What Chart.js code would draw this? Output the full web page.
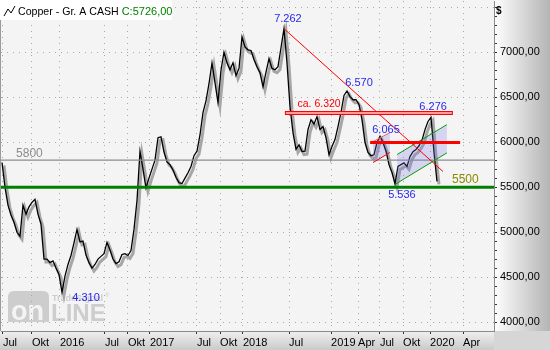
<!DOCTYPE html>
<html><head><meta charset="utf-8">
<script src="https://cdn.jsdelivr.net/npm/chart.js@4/dist/chart.umd.min.js"></script>
<style>html,body{margin:0;padding:0;background:#fff;}canvas{display:block}</style>
</head><body>
<canvas id="c" width="550" height="350"></canvas>
<script>
// ---- data ----
const titleText = "Copper - Gr. A CASH";
const lastCloseText = "C:5726,00";
// closes sampled at regular trading intervals, Jul 2015 .. Feb 2020
const prices = [
 5774,5500,5300,5190,5110,4998,4953,5300,5200,5280,
 5330,5364,5200,5090,4700,4700,4660,4680,4600,4530,
 4330,4510,4640,4740,4880,5031,4890,4900,4745,4660,
 4600,4640,4700,4730,4760,4887,4800,4700,4650,4670,
 4750,4760,4740,4795,5030,5350,5900,5700,5490,5600,
 5700,5800,6050,6060,5890,5780,5750,5690,5610,5550,
 5540,5600,5660,5730,5850,5900,6080,6328,6460,6650,
 6882,6661,6439,6800,7000,6882,6805,6882,6740,6820,
 7171,7060,7027,7020,6920,6838,6772,6616,6780,6930,
 6820,6805,6840,7050,7262,6882,6395,6106,5920,5970,
 5895,5900,6140,6250,6200,6284,6140,6173,6050,5860,
 5951,6029,6173,6330,6520,6570,6506,6472,6472,6420,
 6250,5996,5885,5850,5860,5996,6065,5996,5900,5750,
 5663,5536,5730,5750,5770,5730,5840,5895,5918,5960,
 6020,6140,6230,6276,5885,5563
];
const tickPositions = [0.33,10,19.3,34.3,42,49.3,65,72.7,80.3,95.7,109.7,118.7,126,133.7,142.7,153.7];
const tickLabels = ["Jul","Okt","2016","Jul","Okt","2017","Jul","Okt","2018","Jul","2019","Apr","Jul","Okt","2020","Apr"];
const yTickValues = [4000,4500,5000,5500,6000,6500,7000];

const refLevel = 5800;
const supportLevel = 5500;
const resistanceZone = {value:6320, from:94.3, to:150.3};
const resistanceLine = {value:5995, from:122.7, to:152.7};
const trendLine = [[94,7262],[147,5674]];
const channelUpper = [[131.7,5863],[148.3,6195]];
const channelLower = [[131.0,5530],[148.3,5881]];
const miniUpper = [[123.7,6007],[129.3,6106]];
const miniLower = [[123.7,5774],[129.3,5885]];
const peakLabels = [
  {text:"7.262", i:95.3, v:7370},
  {text:"6.570", i:119, v:6661},
  {text:"6.065", i:128, v:6140},
  {text:"6.276", i:143.7, v:6395},
  {text:"5.536", i:133.3, v:5408},
  {text:"4.310", i:28, v:4266}
];
const levelLabels = [
  {text:"5800", i:4.7, v:5877, kind:"ref"},
  {text:"5500", i:150, v:5585, kind:"support"},
  {text:"ca. 6.320", i:105.7, v:6428, kind:"res"}
];

// ---- chart ----
const FONT = "'Liberation Sans', Arial, sans-serif";
Chart.defaults.font.family = FONT;

const points = prices.map((p,i)=>({x:i, y:p}));

const bgPlugin = {
  id:'bg',
  beforeDraw(chart){
    const {ctx, chartArea:a, width, height} = chart;
    ctx.save();
    ctx.fillStyle='#f4f4f4'; ctx.fillRect(0,0,a.right,a.bottom);
    let g = ctx.createLinearGradient(a.right,0,width,0);
    g.addColorStop(0,'#ffffff'); g.addColorStop(1,'#b4b4b4');
    ctx.fillStyle=g; ctx.fillRect(a.right,0,width-a.right,a.bottom);
    g = ctx.createLinearGradient(0,a.bottom,0,height);
    g.addColorStop(0,'#f0f0f0'); g.addColorStop(1,'#cacaca');
    ctx.fillStyle=g; ctx.fillRect(0,a.bottom,a.right,height-a.bottom);
    ctx.fillStyle='#d6d6d6'; ctx.fillRect(a.right,a.bottom,width-a.right,height-a.bottom);
    // watermark logo
    const wx=8, wy=291;
    ctx.fillStyle='#cdcdcd';
    const r=6, w=41, h=31;
    ctx.beginPath();
    ctx.moveTo(wx+r,wy); ctx.lineTo(wx+w-r,wy); ctx.quadraticCurveTo(wx+w,wy,wx+w,wy+r);
    ctx.lineTo(wx+w,wy+h); ctx.lineTo(wx,wy+h); ctx.lineTo(wx,wy+r); ctx.quadraticCurveTo(wx,wy,wx+r,wy);
    ctx.fill();
    ctx.font="bold 27px "+FONT; ctx.textBaseline='alphabetic'; ctx.textAlign='left';
    ctx.fillStyle='#f4f4f4'; ctx.fillText('on', wx+3, wy+h-2);
    ctx.fillStyle='#cdcdcd'; ctx.font="bold 24px "+FONT; ctx.fillText('LINE', wx+w+2, wy+h-1);
    ctx.font="bold 9px "+FONT; ctx.fillText('TradeSignal', wx+w+3, wy+10);
    ctx.font="6px "+FONT; ctx.fillText('®', wx+w+56, wy+6);
    ctx.restore();
  },
  beforeDatasetDraw(chart,args){
    if(args.index===1){ chart.ctx.save(); chart.ctx.translate(2,3); }
  },
  afterDatasetDraw(chart,args){
    if(args.index===1){ chart.ctx.restore(); }
  },
  afterDatasetsDraw(chart){
    const {ctx, chartArea:a} = chart;
    const xs=chart.scales.x, ys=chart.scales.y;
    const px=i=>xs.getPixelForValue(i), py=v=>ys.getPixelForValue(v);
    ctx.save();
    ctx.beginPath(); ctx.rect(a.left,a.top,a.right-a.left,a.bottom-a.top); ctx.clip();
    ctx.strokeStyle='#8c8c8c'; ctx.lineWidth=1.3;
    ctx.beginPath(); ctx.moveTo(a.left,py(refLevel)); ctx.lineTo(a.right,py(refLevel)); ctx.stroke();
    ctx.strokeStyle='#008000'; ctx.lineWidth=3;
    ctx.beginPath(); ctx.moveTo(a.left,py(supportLevel)); ctx.lineTo(a.right,py(supportLevel)); ctx.stroke();
    const poly=(u,l)=>{
      ctx.beginPath();
      ctx.moveTo(px(u[0][0]),py(u[0][1])); ctx.lineTo(px(u[1][0]),py(u[1][1]));
      ctx.lineTo(px(l[1][0]),py(l[1][1])); ctx.lineTo(px(u[0][0]),py(l[0][1]+(l[1][1]-l[0][1])*(u[0][0]-l[0][0])/(l[1][0]-l[0][0])));
      ctx.closePath(); ctx.fill();
    };
    ctx.fillStyle='rgba(120,120,230,0.25)';
    poly(channelUpper,channelLower);
    poly(miniUpper,miniLower);
    const seg=(s,c,w)=>{ctx.strokeStyle=c; ctx.lineWidth=w; ctx.beginPath(); ctx.moveTo(px(s[0][0]),py(s[0][1])); ctx.lineTo(px(s[1][0]),py(s[1][1])); ctx.stroke();};
    seg(channelUpper,'#00a000',1); seg(channelLower,'#00a000',1);
    seg(miniUpper,'#ff6060',1); seg(miniLower,'#ff0000',1);
    seg(trendLine,'#ff0000',1);
    const zy=Math.round(py(resistanceZone.value));
    const zx0=px(resistanceZone.from), zx1=px(resistanceZone.to);
    ctx.fillStyle='#ff0000'; ctx.fillRect(zx0,zy-2,zx1-zx0,4);
    ctx.fillStyle='#ff9a9a'; ctx.fillRect(zx0+1,zy-1,zx1-zx0-2,2);
    ctx.strokeStyle='#ff0000'; ctx.lineWidth=3;
    ctx.beginPath(); ctx.moveTo(px(resistanceLine.from),py(resistanceLine.value)); ctx.lineTo(px(resistanceLine.to),py(resistanceLine.value)); ctx.stroke();
    ctx.restore();
    ctx.save();
    ctx.textBaseline='middle';
    ctx.font="11px "+FONT; ctx.textAlign='center'; ctx.fillStyle='#2828f0';
    peakLabels.forEach(l=>ctx.fillText(l.text,px(l.i),py(l.v)));
    levelLabels.forEach(l=>{
      if(l.kind==='ref'){ctx.fillStyle='#8c8c8c'; ctx.font="12px "+FONT; ctx.textAlign='left';}
      else if(l.kind==='support'){ctx.fillStyle='#8a8a00'; ctx.font="12px "+FONT; ctx.textAlign='left';}
      else {ctx.fillStyle='#ff0000'; ctx.font="10.5px "+FONT; ctx.textAlign='center';}
      ctx.fillText(l.text,px(l.i),py(l.v));
    });
    ctx.restore();
  },
  afterDraw(chart){
    const {ctx, chartArea:a} = chart;
    ctx.save();
    ctx.strokeStyle='#9a9a9a'; ctx.lineWidth=1;
    ctx.beginPath(); ctx.moveTo(a.left-0.5,a.top); ctx.lineTo(a.left-0.5,a.bottom); ctx.stroke();
    ctx.fillStyle='#ffffff'; ctx.fillRect(0,0,172,20);
    ctx.strokeStyle='#000'; ctx.lineWidth=1;
    ctx.beginPath(); ctx.moveTo(4,16); ctx.lineTo(8,9); ctx.lineTo(11,13); ctx.lineTo(15,6); ctx.stroke();
    ctx.font="10.6px "+FONT; ctx.textBaseline='alphabetic'; ctx.textAlign='left';
    ctx.fillStyle='#000'; ctx.fillText(titleText,18,15);
    const w=ctx.measureText(titleText).width;
    ctx.fillStyle='#008000'; ctx.font="11px "+FONT; ctx.fillText(lastCloseText,18+w+3,15);
    ctx.fillStyle='#000'; ctx.font="bold 10px "+FONT; ctx.fillText('$',496,14);
    ctx.restore();
  }
};

new Chart(document.getElementById('c'), {
  type:'line',
  data:{datasets:[
    {data:points, borderColor:'#000000', borderWidth:1.3, pointRadius:0, tension:0, order:0},
    {data:points, borderColor:'#a6a6a6', borderWidth:3, pointRadius:0, tension:0, order:1}
  ]},
  options:{
    responsive:false, animation:false, devicePixelRatio:1,
    layout:{padding:{left:1, top:1, right:0, bottom:0}},
    plugins:{legend:{display:false}, tooltip:{enabled:false}},
    scales:{
      x:{type:'linear', min:-0.33, max:164, position:'bottom',
        afterFit:s=>{s.height=19; s.paddingLeft=0; s.paddingRight=0;},
        afterBuildTicks:s=>{s.ticks=tickPositions.map(v=>({value:v}));},
        ticks:{autoSkip:false, maxRotation:0, minRotation:0, align:'start', padding:2,
          color:'#000', font:{size:11, family:FONT},
          callback:(v,i)=>tickLabels[i]},
        grid:{color:'#a8a8a8', tickColor:'#303030', tickLength:3, lineWidth:1},
        border:{display:true, color:'#8a8a8a', dash:[1,5]}
      },
      y:{type:'linear', position:'right', min:3900, max:7570,
        afterFit:s=>{s.width=56; s.paddingTop=0; s.paddingBottom=0;},
        afterBuildTicks:s=>{const t=[]; for(let v=4000; v<=7500; v+=100) t.push({value:v}); s.ticks=t;},
        ticks:{autoSkip:false, padding:3, color:'#000', font:{size:11, family:FONT},
          callback:v=> yTickValues.includes(v) ? v.toFixed(2).replace('.',',') : ''},
        grid:{color:c=> (c.tick && c.tick.value%500===0) ? '#a8a8a8' : 'rgba(0,0,0,0)', tickColor:'#303030', tickLength:3, lineWidth:1},
        border:{display:true, color:'#8a8a8a', dash:[1,5]}
      }
    }
  },
  plugins:[bgPlugin]
});
</script>
</body></html>
